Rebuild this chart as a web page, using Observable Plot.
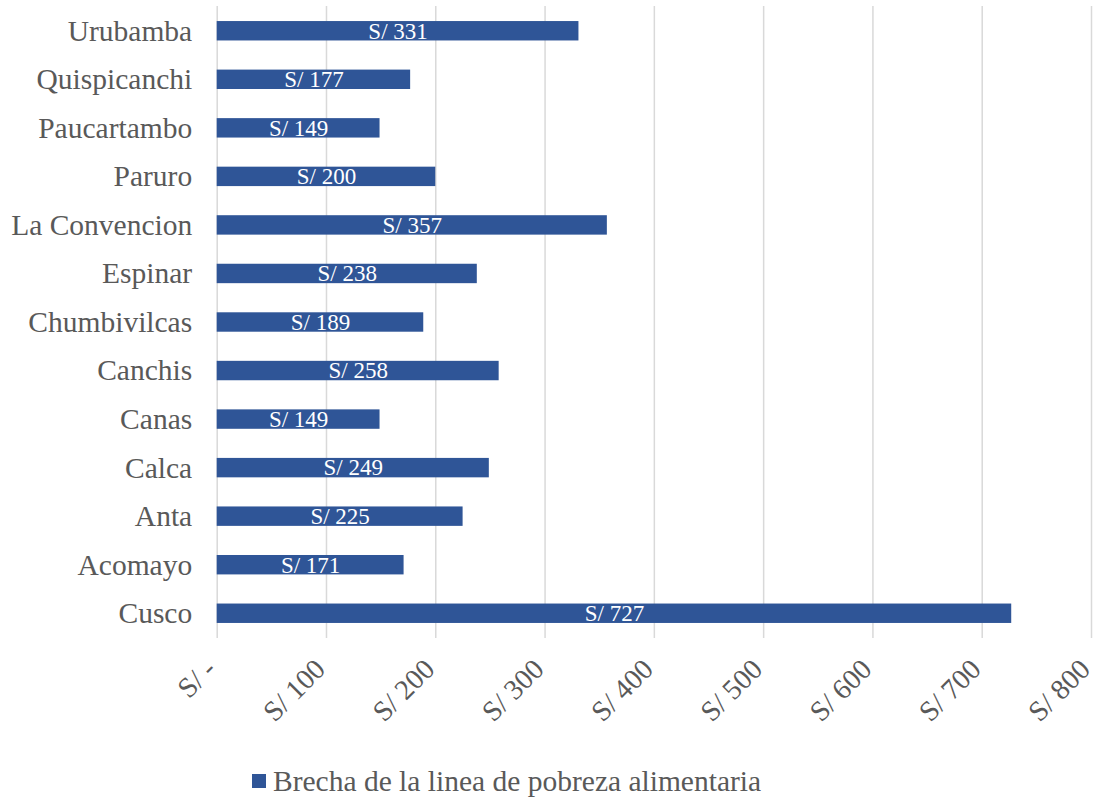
<!DOCTYPE html>
<html>
<head>
<meta charset="utf-8">
<script src="https://cdn.jsdelivr.net/npm/d3@7"></script>
<script src="https://cdn.jsdelivr.net/npm/@observablehq/plot@0.6"></script>
<style>
  html, body { margin: 0; padding: 0; background: #fff; }
  body { width: 1096px; height: 798px; overflow: hidden; font-family: "Liberation Serif", "Times New Roman", serif; }
  #legend { display: flex; align-items: center; padding-left: 252px; margin-top: 14px; height: 34px; font-size: 29.5px; color: #595959; }
  #legend .sw { width: 14px; height: 14px; background: #2f5597; margin-right: 7px; }
</style>
</head>
<body>
<div id="chart"></div>
<div id="legend"><span class="sw"></span><span id="legendText"></span></div>
<script>
const provinces = ["Cusco", "Acomayo", "Anta", "Calca", "Canas", "Canchis", "Chumbivilcas", "Espinar", "La Convencion", "Paruro", "Paucartambo", "Quispicanchi", "Urubamba"];
const brecha = [727, 171, 225, 249, 149, 258, 189, 238, 357, 200, 149, 177, 331];
const xTicks = [0, 100, 200, 300, 400, 500, 600, 700, 800];
const xTickLabels = ["S/ -", "S/ 100", "S/ 200", "S/ 300", "S/ 400", "S/ 500", "S/ 600", "S/ 700", "S/ 800"];
const seriesName = "Brecha de la linea de pobreza alimentaria";

const data = provinces.map((p, i) => ({name: p, value: brecha[i]}));
const color = "#2f5597";

const chart = Plot.plot({
  width: 1096,
  height: 750,
  marginLeft: 216.7,
  marginRight: 5,
  marginTop: 6,
  marginBottom: 112,
  style: {fontFamily: "'Liberation Serif', 'Times New Roman', serif", color: "#595959", background: "#fff"},
  x: {domain: [0, 800], label: null},
  y: {domain: provinces.slice().reverse(), paddingInner: 0.6, paddingOuter: 0.31, round: false, label: null},
  marks: [
    Plot.gridX({ticks: xTicks, stroke: "#d9d9d9", strokeOpacity: 1, strokeWidth: 1.5}),
    Plot.barX(data, {x: "value", y: "name", fill: color}),
    Plot.text(data, {x: d => d.value / 2, y: "name", text: d => "S/ " + d.value, fill: "white", fontSize: 23}),
    Plot.axisX({ticks: xTicks, tickFormat: d => xTickLabels[xTicks.indexOf(d)], tickSize: 0, tickPadding: 26, dx: -6, tickRotate: -45, fontSize: 28.5, fill: "#595959", label: null}),
    Plot.axisY({tickSize: 0, tickPadding: 25, fontSize: 29.5, fill: "#595959", label: null})
  ]
});
document.getElementById("chart").appendChild(chart);
document.getElementById("legendText").textContent = seriesName;
</script>
</body>
</html>
